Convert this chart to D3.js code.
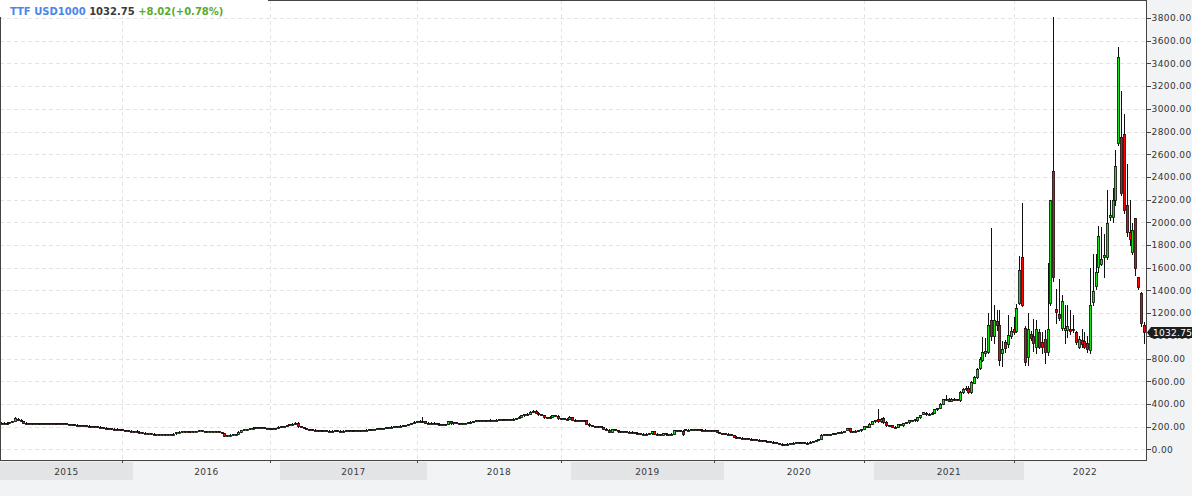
<!DOCTYPE html>
<html><head><meta charset="utf-8">
<script src="https://cdn.jsdelivr.net/npm/d3@7/dist/d3.min.js"></script>
<style>
html,body{margin:0;padding:0;background:#f2f3f5;}
svg{display:block;}
text{font-family:"DejaVu Sans",sans-serif;}
</style></head><body>
<svg id="chart" width="1192" height="496"></svg>
<script>
// ---------- DATA ----------
const yearLabels = ["2015","2016","2017","2018","2019","2020","2021","2022"];
const headerParts = ["TTF USD1000", "1032.75", "+8.02(+0.78%)"];
const lastPrice = 1032.75;
const yTickValues = [0,200,400,600,800,1000,1200,1400,1600,1800,2000,2200,2400,2600,2800,3000,3200,3400,3600,3800];

// weekly candles [open, high, low, close]
const ohlc2015 = [
[236,240,230,234],[234,238,231,236],[236,237,227,229],[230,242,229,240],[240,251,238,249],
[252,282,250,272],[270,273,260,263],[262,264,248,250],[247,248,234,236],[236,238,230,232],
[232,235,228,230],[230,233,227,229],[229,232,226,231],[228,234,227,233],[233,235,229,230],
[230,233,227,228],[228,232,226,231],[231,233,227,229],[229,231,225,228],[228,233,226,232],
[232,234,228,229],[229,231,225,227],[227,230,224,228],[228,229,222,224],[224,226,219,221],
[221,224,218,222],[222,223,216,218],[218,221,214,216],[216,218,210,213],[213,216,208,210],
[210,213,206,209],[209,211,204,206],[206,209,203,207],[207,208,200,202],[202,205,198,200],
[200,202,194,196],[196,199,190,192],[192,194,186,188],[188,192,185,187],[187,189,181,183],
[183,186,179,182],[182,184,176,178],[178,180,172,175]
];
const ohlc2016 = [
[175,177,168,170],[170,172,165,168],[168,170,162,164],[164,166,158,161],[161,163,156,159],
[165,167,153,155],[155,157,149,151],[151,153,145,147],[147,149,141,143],[143,146,139,141],
[141,144,137,139],[139,141,134,136],[136,139,132,137],[137,139,131,133],[133,136,129,134],
[134,136,130,132],[132,135,129,134],[134,137,131,135],[135,140,133,138],[140,156,138,152],
[152,158,150,155],[155,159,152,157],[157,160,153,156],[156,160,154,158],[158,161,155,157],
[157,162,155,160],[160,164,157,162],[162,168,160,166],[166,168,161,163],[163,165,158,160],
[160,163,157,161],[161,164,158,159],[159,162,155,160],[160,162,156,158],[158,160,151,154],
[154,156,140,142],[142,144,116,120],[120,128,118,126],[126,132,124,130],[130,134,127,131],
[131,137,129,135],[138,158,136,155],[155,174,153,170],[170,178,167,176],[176,183,174,181],
[181,188,178,186],[186,194,184,192],[192,198,189,195],[195,197,190,192],[192,195,188,193],
[193,196,188,190],[190,192,185,187]
];
const ohlc2017 = [
[187,190,180,183],[183,187,178,185],[185,190,182,188],[188,202,186,199],[199,205,196,203],
[203,208,200,206],[206,216,204,214],[214,224,212,222],[222,230,219,226],[226,238,224,235],
[235,238,198,201],[205,207,193,195],[195,197,185,187],[187,189,178,180],[180,182,172,175],
[175,178,169,172],[172,175,167,170],[170,172,164,167],[167,170,163,165],[165,168,161,166],
[166,168,161,163],[163,167,160,165],[165,168,161,164],[164,167,160,166],[166,169,162,165],
[165,168,161,163],[163,167,160,165],[165,169,162,167],[167,170,163,166],[166,169,162,165],
[165,168,162,167],[167,171,164,169],[169,172,165,168],[168,172,166,171],[171,175,168,173],
[173,177,170,176],[176,180,173,178],[178,182,175,181],[181,185,178,184],[184,188,181,187],
[187,191,184,190],[190,194,187,193],[193,198,190,196],[196,202,194,200],[200,205,197,203],
[203,208,200,206],[206,211,203,209],[209,213,205,210],[210,214,206,212],[212,224,210,222],
[222,234,220,232],[232,246,230,243]
];
const ohlc2018 = [
[243,250,238,246],[246,254,242,250],[250,282,244,247],[247,249,232,236],[236,239,230,234],
[234,238,230,236],[236,238,228,231],[231,234,222,225],[225,228,218,222],[222,226,218,224],
[224,227,219,223],[224,248,222,245],[245,247,226,228],[228,240,226,238],[238,240,228,230],
[230,233,225,228],[228,232,224,230],[230,236,228,234],[234,240,232,238],[238,246,236,244],
[244,252,242,250],[250,256,247,254],[254,258,250,256],[256,260,252,257],[257,261,253,258],
[258,262,254,260],[260,263,255,258],[258,262,254,260],[260,264,256,262],[262,265,258,263],
[263,267,259,264],[264,267,259,262],[262,266,258,264],[264,268,260,265],[265,272,262,270],
[270,278,267,276],[276,290,274,287],[287,302,285,300],[300,310,296,307],[307,316,303,313],
[313,334,310,330],[330,350,328,340],[340,343,318,322],[322,325,305,308],[308,312,300,304],
[304,306,278,282],[282,288,278,285],[285,292,280,288],[288,303,286,300],[300,302,292,296],
[296,298,270,275]
];
const ohlc2019 = [
[275,280,268,272],[272,276,266,270],[270,274,264,268],[268,290,266,285],[285,287,256,260],
[260,263,252,256],[256,260,252,255],[255,259,250,256],[256,258,250,254],[256,258,222,226],
[226,229,208,210],[210,214,204,206],[206,209,200,203],[203,206,198,201],[201,204,193,196],
[196,198,178,181],[181,184,170,173],[173,176,150,152],[152,182,150,178],[178,180,166,170],
[170,172,156,158],[158,162,153,156],[156,160,152,157],[157,160,151,154],[154,158,150,155],
[155,157,148,150],[150,153,145,147],[147,149,139,141],[141,144,134,137],[137,141,133,139],
[139,142,134,136],[136,141,133,140],[140,162,138,158],[158,160,136,139],[139,142,132,134],
[134,137,127,130],[130,147,128,144],[144,146,130,133],[133,137,129,135],[135,140,132,139],
[139,172,137,168],[162,172,158,170],[170,174,160,163],[163,166,128,132],[178,180,170,173],
[173,176,170,174],[174,177,171,175],[175,178,172,176],[176,178,172,175],[175,178,171,174],
[174,177,169,173],[173,176,169,171],[171,174,166,169],[169,172,164,168]
];
const ohlc2020 = [
[168,171,164,166],[166,168,149,152],[152,155,144,146],[146,148,138,140],[140,143,135,137],
[137,140,132,134],[134,136,124,126],[126,128,108,110],[110,113,102,105],[105,108,99,102],
[102,105,97,100],[100,103,94,97],[97,100,92,95],[95,98,89,92],[92,95,87,90],
[90,92,84,86],[86,88,80,82],[82,85,77,79],[79,81,73,75],[75,77,68,70],
[70,72,64,67],[67,69,58,60],[60,62,52,54],[54,56,46,48],[48,52,38,41],
[41,48,36,45],[45,52,42,49],[49,58,47,56],[56,62,53,58],[58,63,55,60],
[60,64,56,59],[59,63,55,61],[61,64,56,58],[58,60,51,54],[54,69,52,67],
[67,76,65,74],[74,82,72,80],[80,90,78,88],[90,134,88,130],[130,135,126,132],
[132,136,128,131],[131,137,128,135],[135,142,133,140],[140,148,138,146],[146,154,144,152],
[152,158,149,155],[155,160,151,157],[168,188,166,185],[185,187,154,158],[158,162,153,160],
[160,166,156,163],[163,172,160,168],[168,181,165,178]
];
const ohlc2021 = [
[179,205,176,202],[202,204,193,196],[196,228,194,226],[226,249,224,247],[247,262,240,255],
[270,355,240,247],[247,272,240,265],[276,285,232,238],[238,245,208,214],[214,218,205,210],
[210,212,195,198],[198,201,193,196],[196,225,194,223],[223,226,215,219],[210,234,208,232],
[232,241,229,238],[238,257,236,255],[255,262,251,258],[267,270,252,255],[255,284,253,282],
[282,303,280,300],[315,332,312,329],[323,326,306,309],[309,318,306,315],[315,326,312,323],
[323,356,320,353],[353,367,350,364],[367,404,364,402],[402,442,400,440],[440,480,436,446],
[446,449,424,426],[426,448,422,446],[446,452,436,440],[440,446,430,434],[432,515,425,505],
[505,540,498,529],[529,560,520,544],[544,555,498,505],[505,600,500,594],[588,645,580,637],
[637,720,630,711],[714,810,705,800],[787,990,780,854],[845,980,820,870],[860,1198,850,1098],
[1136,1946,960,995],[995,1270,940,1136],[1130,1230,1050,1092],[1092,1230,740,785],[851,950,730,880],
[942,960,860,889],[924,1180,900,1006],[1000,1080,980,1040]
];
const ohlc2022 = [
[1057,1170,1020,1036],[1042,1280,1030,1241],[1292,1706,1280,1580],[1697,2170,1260,1271],[1072,1090,740,772],
[810,1200,740,1057],[1013,1040,960,978],[1001,1150,870,934],[904,1140,850,1057],[1030,1060,890,904],
[942,1030,850,898],[976,1050,760,854],[854,1644,830,1062],[1292,2200,1270,2196],[2455,3805,1480,1518],
[1235,1409,1110,1206],[1191,1500,1140,1159],[1065,1360,1050,1306],[1053,1270,940,1070],[1053,1275,990,1086],
[1060,1230,1020,1045],[1058,1180,1030,1047],[1030,1040,930,948],[904,1000,890,971],[962,1060,904,927],
[955,1035,890,904],[935,1000,860,880],[874,1597,845,1270],[1300,1725,1270,1394],[1441,1725,1410,1558],
[1603,1966,1565,1879],[1632,1960,1620,1676],[1690,1900,1520,1711],[1696,2285,1680,1997],[2046,2200,2020,2061],
[2043,2300,2000,2196],[2195,2637,2150,2495],[2696,3541,2680,3454],[2749,3160,2240,2261],[2775,2951,2080,2108],
[2152,2514,1880,1917],[1917,2200,1800,1850],[1741,1990,1720,1932],[2035,2035,1535,1594],[1520,1520,1410,1432],
[1373,1390,1090,1117],[1098,1121,933,1032.75]
];
const yearSeries = [ohlc2015, ohlc2016, ohlc2017, ohlc2018, ohlc2019, ohlc2020, ohlc2021, ohlc2022];

// ---------- LAYOUT ----------
const W = 1192, H = 496;
const plotR = 1146, plotB = 460;
const upColor = "#17e017", downColor = "#ff0000";

const data = [], yearStart = [];
yearSeries.forEach((arr, k) => {
  yearStart.push(data.length);
  arr.forEach(d => data.push({o:d[0], h:d[1], l:d[2], c:d[3], year:k, i:data.length}));
});

const x = d3.scaleLinear().domain([-0.3, data.length - 0.2]).range([0, plotR]);
const y = d3.scaleLinear().domain([0, 3800]).range([449.3, 18]);

const svg = d3.select("#chart");
svg.append("rect").attr("width", W).attr("height", H).attr("fill", "#f2f3f5");
svg.append("rect").attr("x", 0).attr("y", 0).attr("width", plotR).attr("height", plotB).attr("fill", "#ffffff");

// year bands
const bandEdges = yearStart.map((s, k) => k === 0 ? 0 : Math.round(x(s) + 10.5));
bandEdges.push(plotR);
const bandG = svg.append("g");
yearLabels.forEach((lab, k) => {
  if (k % 2 === 0) {
    bandG.append("rect").attr("x", bandEdges[k]).attr("y", 462)
      .attr("width", bandEdges[k+1] - bandEdges[k]).attr("height", 18).attr("fill", "#e3e4e6");
  }
  bandG.append("text").attr("x", (bandEdges[k] + bandEdges[k+1]) / 2).attr("y", 474.5)
    .attr("text-anchor", "middle").attr("font-size", 9).attr("fill", "#3a3a3a")
    .attr("letter-spacing", "0.4").text(lab);
});

// grid
const grid = svg.append("g").attr("shape-rendering", "crispEdges");
grid.selectAll("line.h").data(yTickValues).join("line").attr("class", "h")
  .attr("x1", 0).attr("x2", plotR)
  .attr("y1", d => Math.round(y(d)) + 0.5).attr("y2", d => Math.round(y(d)) + 0.5)
  .attr("stroke", "#e4e4e4").attr("stroke-dasharray", "4,3");
grid.selectAll("line.v").data(yearStart.slice(1)).join("line").attr("class", "v")
  .attr("x1", d => Math.round(x(d)) + 0.5).attr("x2", d => Math.round(x(d)) + 0.5)
  .attr("y1", 0).attr("y2", plotB)
  .attr("stroke", "#e4e4e4").attr("stroke-dasharray", "4,3");

// candles
const cg = svg.append("g");
const cx = d => Math.round(x(d.i)) + 0.5;
const candle = cg.selectAll("g").data(data).join("g");
candle.append("line")
  .attr("x1", cx).attr("x2", cx)
  .attr("y1", d => Math.round(y(d.h))).attr("y2", d => Math.round(y(d.l)) + 1)
  .attr("stroke", "#111").attr("stroke-width", 1).attr("shape-rendering", "crispEdges");
candle.append("rect")
  .attr("x", d => cx(d) - 1.1)
  .attr("y", d => Math.round(y(Math.max(d.o, d.c))) + 0.5)
  .attr("width", 2.2)
  .attr("height", d => Math.max(1, Math.round(y(Math.min(d.o, d.c))) - Math.round(y(Math.max(d.o, d.c)))))
  .attr("fill", d => d.c >= d.o ? upColor : downColor)
  .attr("stroke", "#111").attr("stroke-width", 0.8);

// frame
const frame = svg.append("g").attr("shape-rendering", "crispEdges").attr("stroke", "#444").attr("fill", "none");
frame.append("rect").attr("x", 0.5).attr("y", 0.5).attr("width", plotR).attr("height", plotB - 0.5);

// right axis
const yAxis = d3.axisRight(y).tickValues(yTickValues).tickFormat(d3.format(".2f")).tickSize(4).tickPadding(1);
const ya = svg.append("g").attr("transform", `translate(${plotR + 0.5},0)`).call(yAxis);
ya.select(".domain").remove();
ya.selectAll("line").attr("stroke", "#444").attr("shape-rendering", "crispEdges");
ya.selectAll("text").attr("font-family", "DejaVu Sans").attr("font-size", 9).attr("fill", "#333").attr("letter-spacing", "0.4");

// bottom ticks
const xa = svg.append("g").attr("shape-rendering", "crispEdges");
xa.selectAll("line").data(yearStart.slice(1)).join("line")
  .attr("x1", d => Math.round(x(d)) + 0.5).attr("x2", d => Math.round(x(d)) + 0.5)
  .attr("y1", plotB).attr("y2", plotB + 3).attr("stroke", "#444");

// header
svg.append("rect").attr("x", 0).attr("y", 0).attr("width", 268).attr("height", 17).attr("fill", "#fff");
const ht = svg.append("text").attr("x", 10).attr("y", 15).attr("font-size", 10).attr("font-weight", "bold");
ht.append("tspan").attr("fill", "#4a86ec").text(headerParts[0] + " ");
ht.append("tspan").attr("fill", "#3a3a3a").text(headerParts[1] + " ");
ht.append("tspan").attr("fill", "#58ab2c").text(headerParts[2]);

// last price tag
const ly = Math.round(y(lastPrice));
svg.append("path")
  .attr("d", `M${plotR + 1},${ly + 0.5} L${plotR + 5},${ly - 5} L${W},${ly - 5} L${W},${ly + 6} L${plotR + 5},${ly + 6} Z`)
  .attr("fill", "#1e1e1e");
svg.append("text").attr("x", plotR + 7).attr("y", ly + 4).attr("font-size", 9).attr("fill", "#fff")
  .attr("letter-spacing", "0.3").text(d3.format(".2f")(lastPrice));
</script>
</body></html>
